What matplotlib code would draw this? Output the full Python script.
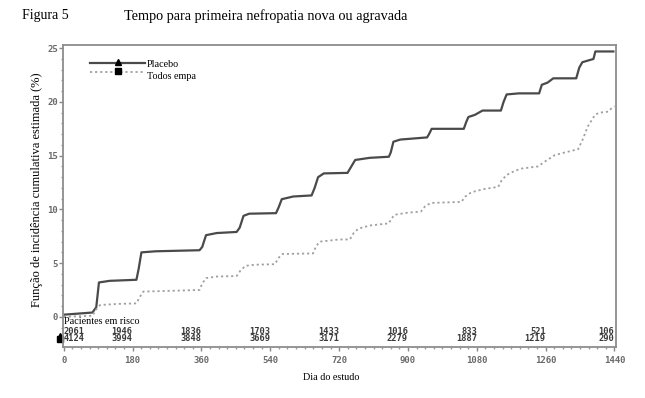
import numpy as np
import matplotlib
matplotlib.use("Agg")
import matplotlib.pyplot as plt
from matplotlib.ticker import MultipleLocator

# curvas (dia, %)
dias_placebo = [0, 75, 85, 92, 120, 190, 196, 203, 240, 355, 362, 372, 400, 452, 460, 470,
                485, 555, 562, 570, 600, 648, 656, 665, 680, 742, 752, 762, 800, 850, 855,
                862, 880, 950, 955, 962, 1046, 1052, 1058, 1075, 1085, 1095, 1143, 1150,
                1158, 1190, 1243, 1250, 1265, 1280, 1340, 1348, 1356, 1375, 1385, 1390, 1440]
inc_placebo = [0.2, 0.4, 0.9, 3.2, 3.35, 3.45, 4.5, 6.0, 6.1, 6.2, 6.5, 7.6, 7.8, 7.9, 8.3, 9.4,
               9.6, 9.65, 10.2, 10.95, 11.2, 11.3, 12.0, 13.0, 13.35, 13.4, 14.0, 14.6, 14.8,
               14.9, 15.3, 16.3, 16.5, 16.7, 17.0, 17.5, 17.5, 18.1, 18.6, 18.8, 19.0, 19.2,
               19.2, 20.0, 20.7, 20.8, 20.8, 21.6, 21.8, 22.2, 22.2, 23.2, 23.7, 23.9, 24.0,
               24.7, 24.7]

dias_empa = [0, 75, 85, 95, 140, 190, 198, 208, 260, 355, 362, 372, 400, 452, 462, 475, 500,
             552, 562, 572, 652, 660, 670, 720, 748, 758, 770, 800, 850, 856, 865, 900, 934,
             945, 960, 1040, 1050, 1066, 1100, 1136, 1145, 1158, 1180, 1197, 1240, 1260,
             1284, 1310, 1345, 1358, 1370, 1389, 1400, 1424, 1432, 1440]
inc_empa = [0.0, 0.1, 0.7, 1.1, 1.2, 1.25, 1.8, 2.35, 2.4, 2.5, 3.1, 3.6, 3.75, 3.8, 4.3, 4.75,
            4.85, 4.9, 5.5, 5.85, 5.9, 6.6, 7.0, 7.2, 7.2, 7.8, 8.2, 8.5, 8.7, 9.1, 9.5, 9.7,
            9.8, 10.3, 10.6, 10.7, 11.2, 11.6, 11.9, 12.1, 12.7, 13.2, 13.6, 13.8, 14.0, 14.5,
            15.05, 15.3, 15.6, 16.6, 17.7, 18.8, 19.0, 19.1, 19.4, 19.6]

dias_risco = [0, 180, 360, 540, 720, 900, 1080, 1260, 1440]
risco_placebo = [2061, 1946, 1836, 1703, 1433, 1016, 833, 521, 106]
risco_empa = [4124, 3994, 3848, 3669, 3171, 2279, 1887, 1219, 290]

serif = "Liberation Serif"
mono = "DejaVu Sans Mono"

fig = plt.figure(figsize=(6.45, 3.98), dpi=100)
W, H = 645, 398
ax = fig.add_axes([63 / W, 1 - 346.7 / H, (616 - 63) / W, (346.7 - 44.7) / H])

ax.plot(dias_placebo, inc_placebo, color="#4a4a4a", lw=1.6, solid_capstyle="butt")
ax.plot(dias_empa, inc_empa, color="#a0a0a0", lw=1.3, ls=(0, (1.2, 1.6)))

ax.set_xlim(-2, 1444)
ax.set_ylim(-2.78, 25.33)
ax.set_xticks(dias_risco)
ax.set_yticks([0, 5, 10, 15, 20, 25])
ax.xaxis.set_minor_locator(MultipleLocator(22.5))
ax.yaxis.set_minor_locator(MultipleLocator(1))
ax.tick_params(which="major", length=3, width=1, color="#888888", labelsize=6.5,
               labelcolor="#6a6a6a")
ax.tick_params(axis="x", which="major", pad=4)
ax.tick_params(axis="y", which="major", pad=0.5)
ax.tick_params(which="minor", length=1.5, width=1, color="#999999")
for lab in ax.get_xticklabels() + ax.get_yticklabels():
    lab.set_fontfamily(mono)
    lab.set_fontweight("bold")
for s in ax.spines.values():
    s.set_color("#8c8c8c")
    s.set_linewidth(1.3)

# tabela de pacientes em risco
ax.text(0, -0.4, "Pacientes em risco", family=serif, fontsize=7.3, va="center", ha="left")
for d, a, b in zip(dias_risco, risco_placebo, risco_empa):
    ha = "left" if d == 0 else "right"
    ax.text(d, -1.32, str(a), family=mono, fontweight="bold", fontsize=6.3,
            color="#3a3a3a", ha=ha, va="center")
    ax.text(d, -2.05, str(b), family=mono, fontweight="bold", fontsize=6.3,
            color="#3a3a3a", ha=ha, va="center")
ax.plot([-11], [-1.75], marker="^", color="black", ms=4.5, clip_on=False)
ax.plot([-11], [-2.05], marker="s", color="black", ms=4.2, clip_on=False)

# legenda manual
ax.plot([68, 212], [23.6, 23.6], color="#4a4a4a", lw=1.6)
ax.plot([68, 212], [22.8, 22.8], color="#a0a0a0", lw=1.3, ls=(0, (1.2, 1.6)))
ax.plot([142], [23.75], marker="^", color="black", ms=4.5)
ax.plot([142], [22.85], marker="s", color="black", ms=4.2)
ax.text(218, 23.45, "Placebo", family=serif, fontsize=7.3, va="center", ha="left")
ax.text(218, 22.35, "Todos empa", family=serif, fontsize=7.3, va="center", ha="left")

fig.text(22 / W, 1 - 16 / H, "Figura 5", family=serif, fontsize=10, va="center", ha="left")
fig.text(124 / W, 1 - 16 / H, "Tempo para primeira nefropatia nova ou agravada",
         family=serif, fontsize=10.3, va="center", ha="left")
fig.text(37 / W, 1 - 190 / H, "Função de incidência cumulativa estimada (%)", family=serif,
         fontsize=9, rotation=90, va="center", ha="center")
fig.text(331 / W, 1 - 378 / H, "Dia do estudo", family=serif, fontsize=7.3,
         va="center", ha="center")

fig.savefig("out.png", dpi=100)
